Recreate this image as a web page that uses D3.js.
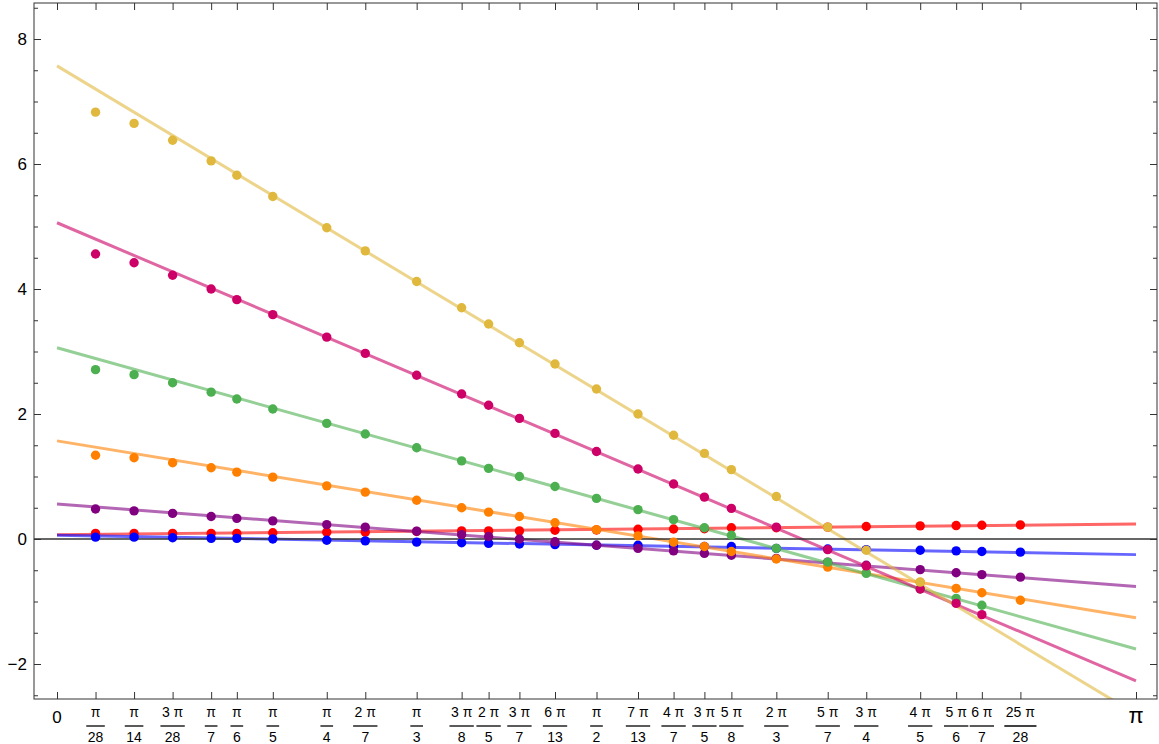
<!DOCTYPE html>
<html>
<head>
<meta charset="utf-8">
<script src="https://cdn.jsdelivr.net/npm/d3@7"></script>
<style>
  body { margin: 0; background: #fff; }
  text { font-family: "Liberation Sans", Arial, sans-serif; fill: #000; }
</style>
</head>
<body>
<div id="chart"></div>
<script>
// x positions are fractions of pi: num/den
const tickNum = [1, 1, 3, 1, 1, 1, 1, 2, 1, 3, 2, 3, 6, 1, 7, 4, 3, 5, 2, 5, 3, 4, 5, 6, 25];
const tickDen = [28, 14, 28, 7, 6, 5, 4, 7, 3, 8, 5, 7, 13, 2, 13, 7, 5, 8, 3, 7, 4, 5, 6, 7, 28];

// dot series (values start at pi/28, some stop early)
const redPts = [0.09, 0.09, 0.09, 0.09, 0.09, 0.10, 0.11, 0.11, 0.12, 0.13, 0.13, 0.13, 0.14, 0.145, 0.155, 0.16, 0.165, 0.18, 0.18, 0.19, 0.20, 0.21, 0.215, 0.22, 0.225];
const bluePts = [0.03, 0.03, 0.02, 0.01, 0.01, 0.0, -0.02, -0.03, -0.05, -0.06, -0.07, -0.08, -0.09, -0.10, -0.10, -0.11, -0.12, -0.12, -0.15, -0.16, -0.17, -0.18, -0.19, -0.20, -0.21];
const purplePts = [0.48, 0.45, 0.41, 0.36, 0.33, 0.29, 0.23, 0.19, 0.125, 0.07, 0.04, 0.0, -0.045, -0.10, -0.15, -0.19, -0.23, -0.26, -0.31, -0.37, -0.42, -0.49, -0.54, -0.57, -0.61];
const orangePts = [1.34, 1.30, 1.22, 1.14, 1.07, 0.99, 0.85, 0.75, 0.62, 0.50, 0.43, 0.36, 0.26, 0.15, 0.05, -0.05, -0.12, -0.20, -0.32, -0.45, -0.54, -0.69, -0.79, -0.86, -0.98];
const greenPts = [2.71, 2.63, 2.50, 2.35, 2.24, 2.08, 1.85, 1.68, 1.46, 1.25, 1.13, 1.00, 0.84, 0.65, 0.47, 0.31, 0.18, 0.06, -0.15, -0.37, -0.55, -0.80, -0.95, -1.06];
const pinkPts = [4.56, 4.42, 4.22, 4.00, 3.83, 3.59, 3.23, 2.97, 2.62, 2.32, 2.14, 1.93, 1.69, 1.40, 1.12, 0.88, 0.67, 0.49, 0.19, -0.17, -0.43, -0.80, -1.03, -1.21];
const yellowPts = [6.83, 6.65, 6.38, 6.05, 5.82, 5.48, 4.98, 4.61, 4.12, 3.70, 3.44, 3.14, 2.80, 2.40, 2.00, 1.66, 1.37, 1.11, 0.68, 0.19, -0.18, -0.69];

// fitted lines: value at x=0 and at x=pi
const lineAt0 = [0.07, 0.06, 0.56, 1.57, 3.06, 5.06, 7.57];
const lineAtPi = [0.24, -0.25, -0.76, -1.26, -1.76, -2.27, -2.80];

const seriesColors = ["#FF0000", "#0000FF", "#800080", "#FF8000", "#4CAF50", "#CC0066", "#E1B83E"];
const seriesPts = [redPts, bluePts, purplePts, orangePts, greenPts, pinkPts, yellowPts];

const yMajor = [-2, 0, 2, 4, 6, 8];

const svgWidth = 1159, svgHeight = 744;
const margin = { top: 3, right: 2, bottom: 45, left: 34 };
const width = svgWidth - margin.left - margin.right;
const height = svgHeight - margin.top - margin.bottom;

const x = d3.scaleLinear().domain([0, Math.PI]).range([23, 1102]);
const y = d3.scaleLinear().domain([0, 8]).range([536, 36]);

const svg = d3.select("#chart").append("svg")
  .attr("width", svgWidth)
  .attr("height", svgHeight);

const g = svg.append("g")
  .attr("transform", "translate(" + margin.left + "," + margin.top + ")");

g.append("clipPath").attr("id", "clip")
  .append("rect").attr("width", width).attr("height", height);

const xVals = tickNum.map((n, i) => n / tickDen[i] * Math.PI);

// fit lines
const plot = g.append("g").attr("clip-path", "url(#clip)");
seriesColors.forEach(function(c, i) {
  plot.append("line")
    .attr("x1", x(0)).attr("y1", y(lineAt0[i]))
    .attr("x2", x(Math.PI)).attr("y2", y(lineAtPi[i]))
    .attr("stroke", c)
    .attr("stroke-opacity", 0.6)
    .attr("stroke-width", 3);
});

// zero axis
plot.append("line")
  .attr("x1", 0).attr("x2", width)
  .attr("y1", y(0)).attr("y2", y(0))
  .attr("stroke", "#333")
  .attr("stroke-width", 1.3);

// dots
seriesPts.forEach(function(pts, i) {
  plot.append("g").selectAll("circle")
    .data(pts)
    .enter()
    .append("circle")
    .attr("cx", (d, j) => x(xVals[j]))
    .attr("cy", d => y(d))
    .attr("r", 4.7)
    .attr("fill", seriesColors[i]);
});

// frame ticks
const yMinor = d3.range(-2.5, 8.51, 0.5).filter(v => yMajor.indexOf(v) < 0);
const xTicks = [0].concat(xVals, [Math.PI]);

function styleAxis(sel) {
  sel.select(".domain").remove();
  sel.selectAll(".tick line").attr("stroke", "#333");
}

g.append("g").call(d3.axisLeft(y).tickValues(yMajor).tickSizeInner(-7).tickPadding(7)
    .tickFormat(d3.format("d")))
  .call(styleAxis)
  .selectAll("text").style("font-size", "17px");
g.append("g").call(d3.axisLeft(y).tickValues(yMinor).tickSizeInner(-4).tickFormat(""))
  .call(styleAxis);
g.append("g").attr("transform", "translate(" + width + ",0)")
  .call(d3.axisRight(y).tickValues(yMajor).tickSizeInner(-7).tickFormat(""))
  .call(styleAxis);
g.append("g").attr("transform", "translate(" + width + ",0)")
  .call(d3.axisRight(y).tickValues(yMinor).tickSizeInner(-4).tickFormat(""))
  .call(styleAxis);
g.append("g").attr("transform", "translate(0," + height + ")")
  .call(d3.axisBottom(x).tickValues(xTicks).tickSizeInner(-7).tickFormat(""))
  .call(styleAxis);
g.append("g")
  .call(d3.axisTop(x).tickValues(xTicks).tickSizeInner(-7).tickFormat(""))
  .call(styleAxis);

// frame
g.append("rect")
  .attr("width", width).attr("height", height)
  .attr("fill", "none")
  .attr("stroke", "#333")
  .attr("stroke-width", 1);

// x tick labels (fractions of pi)
const labels = g.append("g").attr("transform", "translate(0," + height + ")");
labels.append("text")
  .attr("x", x(0)).attr("y", 24)
  .attr("text-anchor", "middle")
  .style("font-size", "17px")
  .text("0");
labels.append("text")
  .attr("x", x(Math.PI)).attr("y", 24)
  .attr("text-anchor", "middle")
  .style("font-size", "22px")
  .text("π");

tickNum.forEach(function(n, i) {
  const fx = x(xVals[i]);
  const frac = labels.append("g").attr("transform", "translate(" + fx + ",0)");
  const top = frac.append("text")
    .attr("y", 18)
    .attr("text-anchor", "middle")
    .style("font-size", "14px")
    .text(n === 1 ? "π" : n + " π");
  const bot = frac.append("text")
    .attr("y", 43)
    .attr("text-anchor", "middle")
    .style("font-size", "14px")
    .text(tickDen[i]);
  const w = Math.max(top.node().getComputedTextLength(), bot.node().getComputedTextLength()) + 3;
  frac.append("line")
    .attr("x1", -w / 2).attr("x2", w / 2)
    .attr("y1", 27).attr("y2", 27)
    .attr("stroke", "#000")
    .attr("stroke-width", 1.3);
});
</script>
</body>
</html>
